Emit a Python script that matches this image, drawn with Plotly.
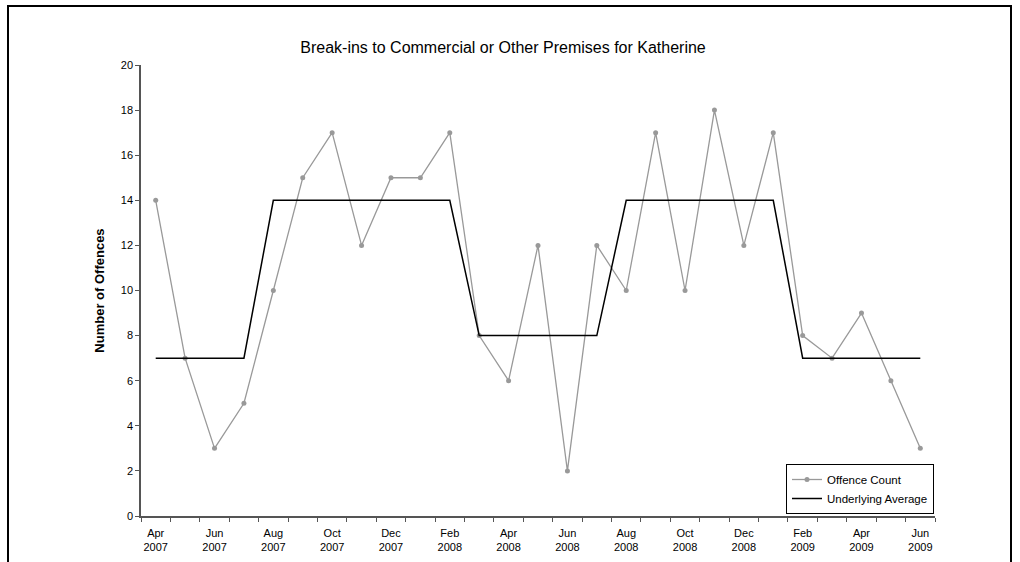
import plotly.graph_objects as go

months = ["Apr 2007","May 2007","Jun 2007","Jul 2007","Aug 2007","Sep 2007","Oct 2007","Nov 2007","Dec 2007",
          "Jan 2008","Feb 2008","Mar 2008","Apr 2008","May 2008","Jun 2008","Jul 2008","Aug 2008","Sep 2008",
          "Oct 2008","Nov 2008","Dec 2008","Jan 2009","Feb 2009","Mar 2009","Apr 2009","May 2009","Jun 2009"]
offence_count = [14, 7, 3, 5, 10, 15, 17, 12, 15, 15, 17, 8, 6, 12, 2, 12, 10, 17, 10, 18, 12, 17, 8, 7, 9, 6, 3]
underlying_avg = [7, 7, 7, 7, 14, 14, 14, 14, 14, 14, 14, 8, 8, 8, 8, 8, 14, 14, 14, 14, 14, 14, 7, 7, 7, 7, 7]

xi = list(range(len(months)))
tick_idx = xi[::2]
tick_txt = [months[i].replace(" ", "<br>") for i in tick_idx]

fig = go.Figure()
fig.add_trace(go.Scatter(x=xi, y=offence_count, mode="lines+markers", name="Offence Count",
                         line=dict(color="#999999", width=1.3),
                         marker=dict(color="#999999", size=5)))
fig.add_trace(go.Scatter(x=xi, y=underlying_avg, mode="lines", name="Underlying Average",
                         line=dict(color="#000000", width=1.5)))

L, R, T, B = 141, 85, 65, 46
W, H = 1020, 562
pw, ph = W - L - R, H - T - B

fig.update_layout(
    width=W, height=H,
    margin=dict(l=L, r=R, t=T, b=B, autoexpand=False),
    paper_bgcolor="white", plot_bgcolor="white",
    font=dict(family="Liberation Sans, Arial, sans-serif", size=11, color="#000000"),
    title=dict(text="Break-ins to Commercial or Other Premises for Katherine",
               x=503 / W, xanchor="center", y=1 - 47 / H, yanchor="middle",
               font=dict(size=16)),
    showlegend=True,
    legend=dict(x=1.0 - 1 / pw, xanchor="right", y=(516 - 464) / ph, yanchor="top",
                bgcolor="white", bordercolor="#000000", borderwidth=1,
                font=dict(size=11.5), tracegroupgap=0, itemwidth=30),
    xaxis=dict(range=[-0.5, len(months) - 0.5], tickmode="array", tickvals=tick_idx, ticktext=tick_txt,
               ticks="", showgrid=False, zeroline=False, showline=True, linecolor="#555555", linewidth=1.5,
               tickfont=dict(size=11), ticklabelstandoff=6, automargin=False,
               minor=dict(tick0=-0.5, dtick=1, ticks="outside", ticklen=4, tickcolor="#555555", showgrid=False)),
    yaxis=dict(range=[0, 20], tickvals=list(range(0, 21, 2)), ticks="outside", ticklen=4,
               tickcolor="#555555", showgrid=False, zeroline=False, showline=True, automargin=False,
               linecolor="#555555", linewidth=1.5, tickfont=dict(size=11),
               title=dict(text="<b>Number of Offences</b>", font=dict(size=13), standoff=13)),
)

# outer chart frame
fig.add_shape(type="rect", xref="paper", yref="paper",
              x0=(8 - L) / pw, x1=(1011 - L) / pw,
              y0=-0.3, y1=(H - B - 6) / ph,
              line=dict(color="#000000", width=2), fillcolor="rgba(0,0,0,0)", layer="below")

fig.write_html("out.html", config={"displayModeBar": False},
               post_script="document.body.style.margin='0';")
